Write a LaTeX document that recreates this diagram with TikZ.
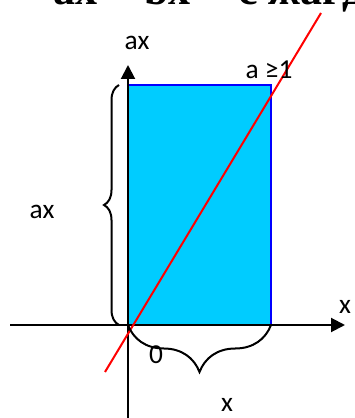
\documentclass[tikz,border=0pt]{standalone}
\usepackage{fontspec}
\setmainfont{Carlito}
\newfontfamily\headfont{Liberation Serif}
\usepackage{xcolor}
\usetikzlibrary{arrows.meta, positioning, decorations.pathreplacing}
\definecolor{rectfill}{RGB}{0,204,255}

\begin{document}
\begin{tikzpicture}[
    x=0.5pt, y=0.5pt,
    axis/.style={line width=1pt, -{Triangle[length=7pt, width=7pt]}},
    lbl/.style={font=\fontsize{13.7}{16}\selectfont, inner sep=0pt},
    brc/.style={decorate, line width=1pt, decoration={brace, amplitude=#1}}
]
    \useasboundingbox (0,0) rectangle (354,418);
    \clip (0,0) rectangle (354,418);

    % heading, cut off at the top
    \node[anchor=base west, inner sep=0pt, font=\headfont\bfseries\fontsize{22}{26}\selectfont] (head) at (53,413) {ax = bx = c жағдайы};

    \coordinate (O) at (128,93);
    \coordinate (xs) at (10,93);
    \coordinate (xe) at (345,93);
    \coordinate (ys) at (128,0);
    \coordinate (ye) at (128,353);

    \filldraw[fill=rectfill, draw=blue, line width=1pt] (O) rectangle (271,333) coordinate (R);

    \draw[axis] (xs) -- (xe);
    \draw[axis] (ys) -- (ye);

    \coordinate (r1) at (105,46);
    \coordinate (r2) at (321,405);
    \draw[red, line width=1pt] (r1) -- (r2);

    \draw[brc=7.5pt] (119,93) -- (119,333);
    \draw[brc=23.5pt] (271,93) -- (128,93);

    \node[lbl] (ytop) at (137,375) {ax};
    \node[lbl] (aval) at (269,348) {a ≥1};
    \node[lbl] (yleft) at (42,206) {ax};
    \node[lbl] (zero) at (156,63) {0};
    \node[lbl] (xbot) at (227,13) {x};
    \node[lbl] (xright) at (345,111) {x};
\end{tikzpicture}
\end{document}
